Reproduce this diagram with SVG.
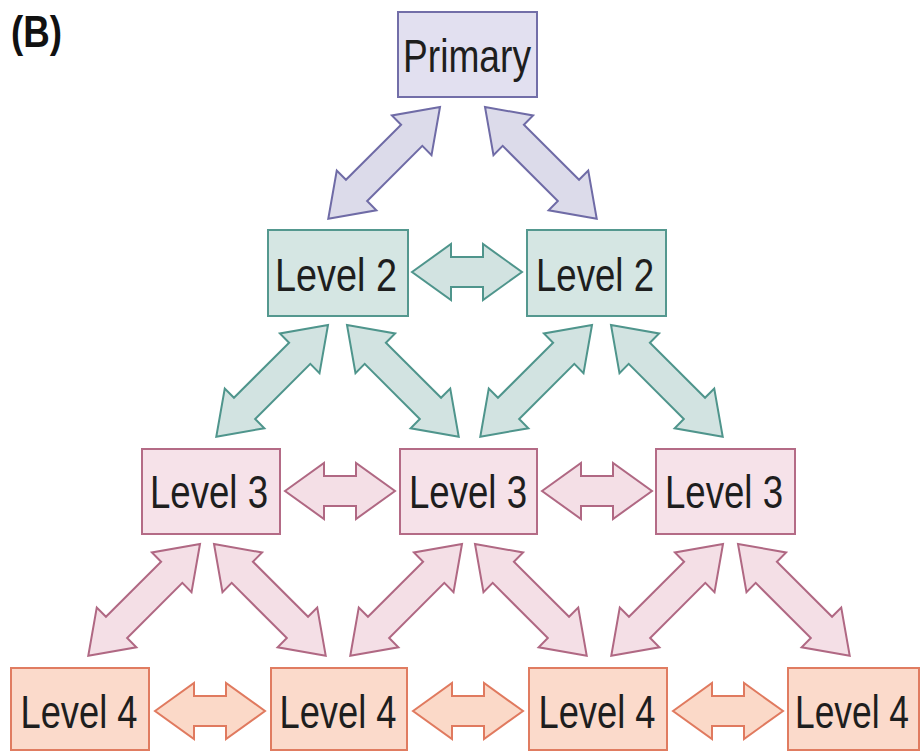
<svg xmlns="http://www.w3.org/2000/svg" xmlns:xlink="http://www.w3.org/1999/xlink" width="922" height="753" viewBox="0 0 922 753">
  <style>
    .t { font-family: "Liberation Sans Narrow", "Liberation Sans", Arial, sans-serif; font-size: 46px; fill: #1e1e1e; text-anchor: middle; }
    .lab { font-family: "Liberation Sans", Arial, sans-serif; font-size: 45px; font-weight: bold; fill: #111; }
    .p { fill: #e2e0f0; stroke: #726ea8; stroke-width: 2; }
    .pa { fill: #dcdbea; stroke: #6f6ba6; stroke-width: 2; stroke-linejoin: miter; }
    .g { fill: #d5e6e3; stroke: #54988f; stroke-width: 2; }
    .ga { fill: #d2e3e1; stroke: #4f958c; stroke-width: 2; stroke-linejoin: miter; }
    .k { fill: #f6e2e9; stroke: #b46b86; stroke-width: 2; }
    .ka { fill: #f4dfe6; stroke: #b06883; stroke-width: 2; stroke-linejoin: miter; }
    .o { fill: #fbdacb; stroke: #e07c61; stroke-width: 2; }
    .oa { fill: #fbd9c8; stroke: #e07a5f; stroke-width: 2; stroke-linejoin: miter; }
  </style>
  <defs>
    <polygon id="dd" points="0,0 40,-28 40,-15 118,-15 118,-28 158,0 118,28 118,15 40,15 40,28"/>
    <polygon id="dh" points="0,0 39,-28 39,-15 71,-15 71,-28 110,0 71,28 71,15 39,15 39,28"/>
  </defs>

  <rect width="922" height="753" fill="#ffffff"/>
  <text class="lab" x="11" y="47" textLength="51" lengthAdjust="spacingAndGlyphs">(B)</text>

  <g id="connectors">
    <use xlink:href="#dd" class="pa" transform="translate(440,107) rotate(135)"/>
    <use xlink:href="#dd" class="pa" transform="translate(485,107) rotate(45)"/>
    <use xlink:href="#dh" class="ga" transform="translate(412,272)"/>
    <use xlink:href="#dd" class="ga" transform="translate(328,325) rotate(135)"/>
    <use xlink:href="#dd" class="ga" transform="translate(347,325) rotate(45)"/>
    <use xlink:href="#dd" class="ga" transform="translate(592,325) rotate(135)"/>
    <use xlink:href="#dd" class="ga" transform="translate(611,325) rotate(45)"/>
    <use xlink:href="#dh" class="ka" transform="translate(285,491)"/>
    <use xlink:href="#dh" class="ka" transform="translate(542,491)"/>
    <use xlink:href="#dd" class="ka" transform="translate(200,544) rotate(135)"/>
    <use xlink:href="#dd" class="ka" transform="translate(214,544) rotate(45)"/>
    <use xlink:href="#dd" class="ka" transform="translate(462,544) rotate(135)"/>
    <use xlink:href="#dd" class="ka" transform="translate(475,544) rotate(45)"/>
    <use xlink:href="#dd" class="ka" transform="translate(723,544) rotate(135)"/>
    <use xlink:href="#dd" class="ka" transform="translate(738,544) rotate(45)"/>
    <use xlink:href="#dh" class="oa" transform="translate(155,711)"/>
    <use xlink:href="#dh" class="oa" transform="translate(413,711)"/>
    <use xlink:href="#dh" class="oa" transform="translate(673,711)"/>
  </g>

  <g id="primary">
    <rect class="p" x="398" y="12" width="139" height="85"/>
    <text class="t" x="467" y="72" textLength="128" lengthAdjust="spacingAndGlyphs">Primary</text>
  </g>
  <g id="l2a">
    <rect class="g" x="268" y="230" width="140" height="86"/>
    <text class="t" x="336" y="291" textLength="122" lengthAdjust="spacingAndGlyphs">Level 2</text>
  </g>
  <g id="l2b">
    <rect class="g" x="527" y="230" width="139" height="86"/>
    <text class="t" x="595" y="291" textLength="118" lengthAdjust="spacingAndGlyphs">Level 2</text>
  </g>
  <g id="l3a">
    <rect class="k" x="142" y="449" width="138" height="85"/>
    <text class="t" x="209" y="508" textLength="118" lengthAdjust="spacingAndGlyphs">Level 3</text>
  </g>
  <g id="l3b">
    <rect class="k" x="400" y="449" width="137" height="85"/>
    <text class="t" x="468" y="508" textLength="118" lengthAdjust="spacingAndGlyphs">Level 3</text>
  </g>
  <g id="l3c">
    <rect class="k" x="656" y="449" width="139" height="85"/>
    <text class="t" x="724" y="508" textLength="118" lengthAdjust="spacingAndGlyphs">Level 3</text>
  </g>
  <g id="l4a">
    <rect class="o" x="11" y="668" width="138" height="82"/>
    <text class="t" x="79" y="728" textLength="117" lengthAdjust="spacingAndGlyphs">Level 4</text>
  </g>
  <g id="l4b">
    <rect class="o" x="271" y="668" width="136" height="82"/>
    <text class="t" x="338" y="728" textLength="117" lengthAdjust="spacingAndGlyphs">Level 4</text>
  </g>
  <g id="l4c">
    <rect class="o" x="529" y="668" width="138" height="82"/>
    <text class="t" x="597" y="728" textLength="117" lengthAdjust="spacingAndGlyphs">Level 4</text>
  </g>
  <g id="l4d">
    <rect class="o" x="788" y="668" width="131" height="82"/>
    <text class="t" x="852" y="728" textLength="114" lengthAdjust="spacingAndGlyphs">Level 4</text>
  </g>
</svg>
